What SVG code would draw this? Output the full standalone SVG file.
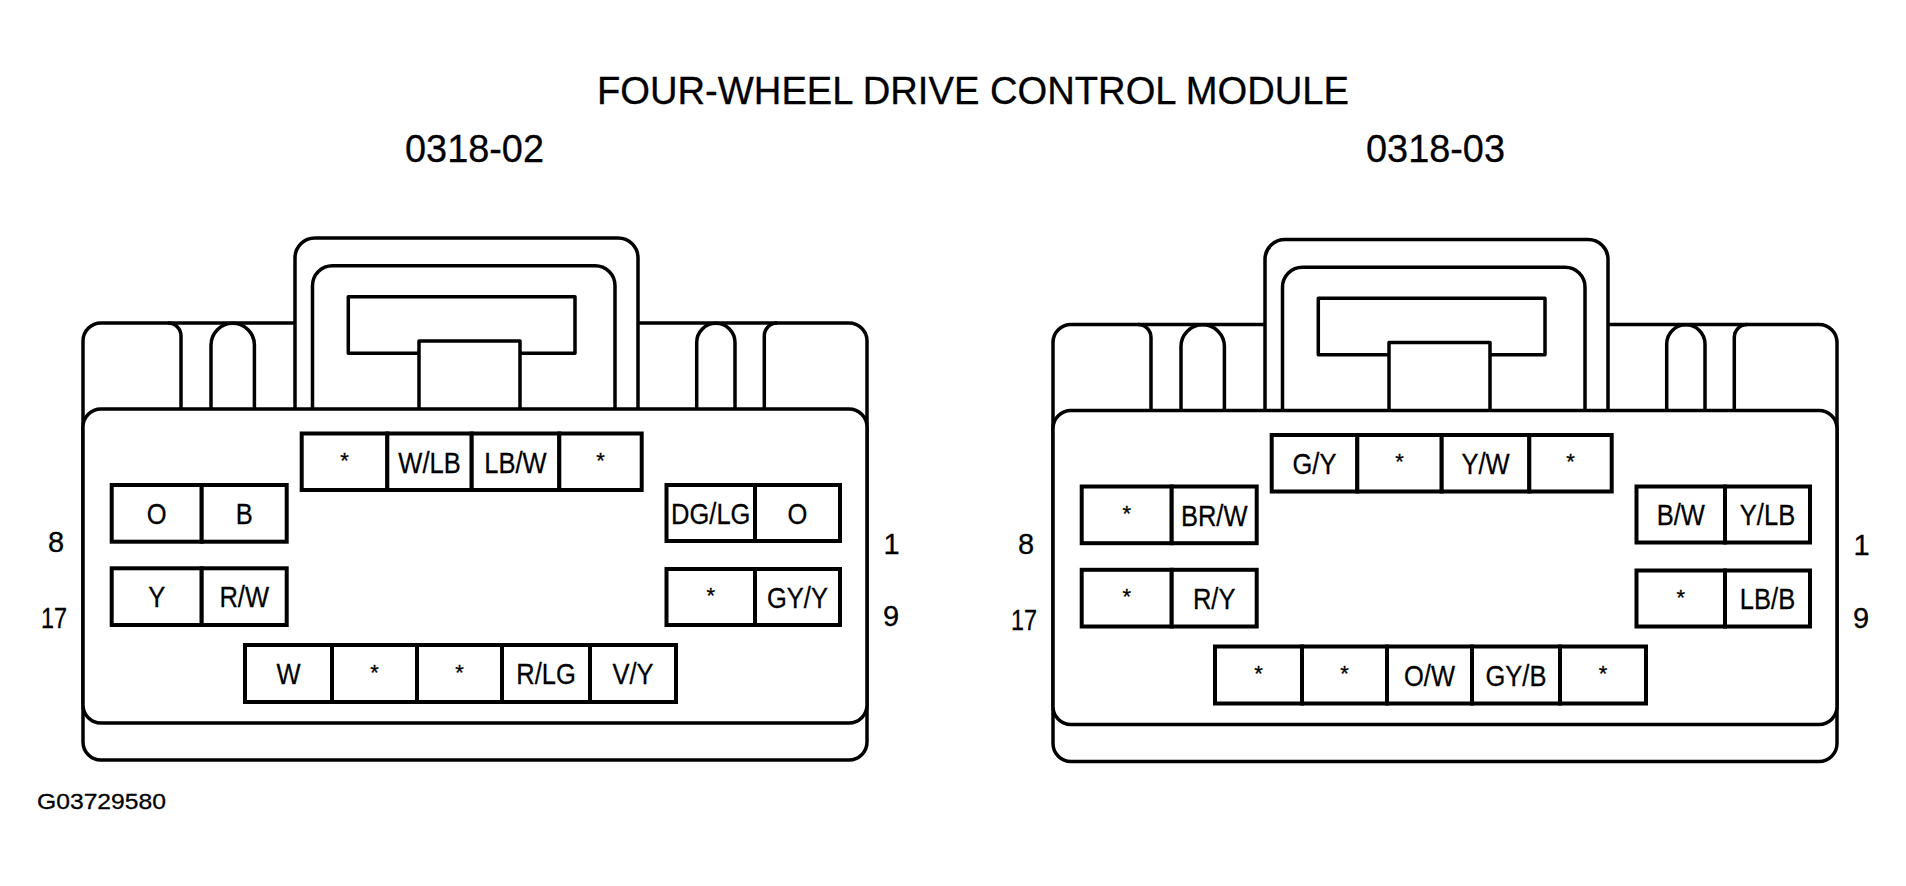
<svg xmlns="http://www.w3.org/2000/svg" width="1906" height="886" viewBox="0 0 1906 886">
<style>
.ln{fill:none;stroke:#000;stroke-width:3.5;stroke-linejoin:round}
.wf{fill:#fff;stroke:#000;stroke-width:3.5;stroke-linejoin:round}
.cell{fill:#fff;stroke:#000;stroke-width:4}
text{font-family:"Liberation Sans",Arial,sans-serif;fill:#000;stroke:#000;stroke-width:0.3}
.t{font-size:30px;text-anchor:middle}
.a{font-size:22px;text-anchor:middle}
.n{font-size:29px;text-anchor:middle}
.h{font-size:39px}
.g{font-size:22px}
</style>
<defs>
<g id="shell">
<rect class="wf" x="83" y="323" width="784" height="437" rx="18"/>
<path class="ln" d="M168,323 A13,13 0 0 1 181,336 V409"/>
<path class="ln" d="M211,409 V345 A21.7,21.7 0 0 1 254.4,345 V409"/>
<path class="ln" d="M696.7,409 V342.5 A19.15,19.15 0 0 1 735,342.5 V409"/>
<path class="ln" d="M764.3,409 V336 A13,13 0 0 1 777.3,323"/>
<path class="wf" d="M295,409 V258 A20,20 0 0 1 315,238 H618 A20,20 0 0 1 638,258 V409"/>
<path class="ln" d="M312.5,409 V285.7 A20,20 0 0 1 332.5,265.7 H595 A20,20 0 0 1 615,285.7 V409"/>
<path class="ln" d="M419,353.3 H348.3 V296.7 H575 V353.3 H520"/>
<path class="ln" d="M419,409 V341 H520 V409"/>
<rect class="wf" x="83" y="409" width="784" height="314" rx="18"/>
</g>
</defs>
<rect width="1906" height="886" fill="#fff"/>
<g id="titles">
<text class="h" x="597" y="104" textLength="752" lengthAdjust="spacingAndGlyphs">FOUR-WHEEL DRIVE CONTROL MODULE</text>
<text class="h" x="405" y="161.5" textLength="139" lengthAdjust="spacingAndGlyphs">0318-02</text>
<text class="h" x="1366" y="161.5" textLength="139" lengthAdjust="spacingAndGlyphs">0318-03</text>
<text class="g" x="37" y="809.3" textLength="129" lengthAdjust="spacingAndGlyphs">G03729580</text>
</g>
<g id="conn-0318-02">
<use href="#shell"/>
<g id="c02-t1"><rect class="cell" x="301.7" y="433.5" width="85.6" height="56.5"/><text class="a" x="344.5" y="467.5">*</text></g>
<g id="c02-t2"><rect class="cell" x="387.3" y="433.5" width="84.4" height="56.5"/><text class="t" x="429.5" y="472.5" textLength="62.3" lengthAdjust="spacingAndGlyphs">W/LB</text></g>
<g id="c02-t3"><rect class="cell" x="471.7" y="433.5" width="87.6" height="56.5"/><text class="t" x="515.5" y="472.5" textLength="62.3" lengthAdjust="spacingAndGlyphs">LB/W</text></g>
<g id="c02-t4"><rect class="cell" x="559.3" y="433.5" width="82.4" height="56.5"/><text class="a" x="600.5" y="467.5">*</text></g>
<g id="c02-l1"><rect class="cell" x="111.7" y="485" width="90" height="56.7"/><text class="t" x="156.7" y="524" textLength="19.8" lengthAdjust="spacingAndGlyphs">O</text></g>
<g id="c02-l2"><rect class="cell" x="201.7" y="485" width="85" height="56.7"/><text class="t" x="244.2" y="524" textLength="17" lengthAdjust="spacingAndGlyphs">B</text></g>
<g id="c02-l3"><rect class="cell" x="111.7" y="568.3" width="90" height="56.7"/><text class="t" x="156.7" y="607.3" textLength="17" lengthAdjust="spacingAndGlyphs">Y</text></g>
<g id="c02-l4"><rect class="cell" x="201.7" y="568.3" width="85" height="56.7"/><text class="t" x="244.2" y="607.3" textLength="49.6" lengthAdjust="spacingAndGlyphs">R/W</text></g>
<g id="c02-r1"><rect class="cell" x="666.5" y="485" width="88.5" height="56"/><text class="t" x="710.75" y="523.7" textLength="79.4" lengthAdjust="spacingAndGlyphs">DG/LG</text></g>
<g id="c02-r2"><rect class="cell" x="755" y="485" width="85" height="56"/><text class="t" x="797.5" y="523.7" textLength="19.8" lengthAdjust="spacingAndGlyphs">O</text></g>
<g id="c02-r3"><rect class="cell" x="666.5" y="569" width="88.5" height="56"/><text class="a" x="710.75" y="603">*</text></g>
<g id="c02-r4"><rect class="cell" x="755" y="569" width="85" height="56"/><text class="t" x="797.5" y="607.7" textLength="60.9" lengthAdjust="spacingAndGlyphs">GY/Y</text></g>
<g id="c02-b1"><rect class="cell" x="245" y="645" width="87" height="57"/><text class="t" x="288.5" y="684.2" textLength="24.1" lengthAdjust="spacingAndGlyphs">W</text></g>
<g id="c02-b2"><rect class="cell" x="332" y="645" width="85" height="57"/><text class="a" x="374.5" y="679.5">*</text></g>
<g id="c02-b3"><rect class="cell" x="417" y="645" width="85" height="57"/><text class="a" x="459.5" y="679.5">*</text></g>
<g id="c02-b4"><rect class="cell" x="502" y="645" width="88" height="57"/><text class="t" x="546" y="684.2" textLength="59.5" lengthAdjust="spacingAndGlyphs">R/LG</text></g>
<g id="c02-b5"><rect class="cell" x="590" y="645" width="86" height="57"/><text class="t" x="633" y="684.2" textLength="41.1" lengthAdjust="spacingAndGlyphs">V/Y</text></g>
<text class="n" x="56" y="552">8</text>
<text class="n" x="54" y="628" textLength="26" lengthAdjust="spacingAndGlyphs">17</text>
<text class="n" x="891.5" y="553.5">1</text>
<text class="n" x="891" y="626">9</text>
</g>
<g id="conn-0318-03" transform="translate(970,1.5)">
<use href="#shell"/>
<g id="c03-t1"><rect class="cell" x="301.7" y="433.5" width="85.6" height="56.5"/><text class="t" x="344.5" y="472.5" textLength="43.9" lengthAdjust="spacingAndGlyphs">G/Y</text></g>
<g id="c03-t2"><rect class="cell" x="387.3" y="433.5" width="84.4" height="56.5"/><text class="a" x="429.5" y="467.5">*</text></g>
<g id="c03-t3"><rect class="cell" x="471.7" y="433.5" width="87.6" height="56.5"/><text class="t" x="515.5" y="472.5" textLength="48.2" lengthAdjust="spacingAndGlyphs">Y/W</text></g>
<g id="c03-t4"><rect class="cell" x="559.3" y="433.5" width="82.4" height="56.5"/><text class="a" x="600.5" y="467.5">*</text></g>
<g id="c03-l1"><rect class="cell" x="111.7" y="485" width="90" height="56.7"/><text class="a" x="156.7" y="519.5">*</text></g>
<g id="c03-l2"><rect class="cell" x="201.7" y="485" width="85" height="56.7"/><text class="t" x="244.2" y="524" textLength="66.6" lengthAdjust="spacingAndGlyphs">BR/W</text></g>
<g id="c03-l3"><rect class="cell" x="111.7" y="568.3" width="90" height="56.7"/><text class="a" x="156.7" y="602.7">*</text></g>
<g id="c03-l4"><rect class="cell" x="201.7" y="568.3" width="85" height="56.7"/><text class="t" x="244.2" y="607.3" textLength="42.5" lengthAdjust="spacingAndGlyphs">R/Y</text></g>
<g id="c03-r1"><rect class="cell" x="666.5" y="485" width="88.5" height="56"/><text class="t" x="710.75" y="523.7" textLength="48.2" lengthAdjust="spacingAndGlyphs">B/W</text></g>
<g id="c03-r2"><rect class="cell" x="755" y="485" width="85" height="56"/><text class="t" x="797.5" y="523.7" textLength="55.3" lengthAdjust="spacingAndGlyphs">Y/LB</text></g>
<g id="c03-r3"><rect class="cell" x="666.5" y="569" width="88.5" height="56"/><text class="a" x="710.75" y="603">*</text></g>
<g id="c03-r4"><rect class="cell" x="755" y="569" width="85" height="56"/><text class="t" x="797.5" y="607.7" textLength="55.3" lengthAdjust="spacingAndGlyphs">LB/B</text></g>
<g id="c03-b1"><rect class="cell" x="245" y="645" width="87" height="57"/><text class="a" x="288.5" y="679.5">*</text></g>
<g id="c03-b2"><rect class="cell" x="332" y="645" width="85" height="57"/><text class="a" x="374.5" y="679.5">*</text></g>
<g id="c03-b3"><rect class="cell" x="417" y="645" width="85" height="57"/><text class="t" x="459.5" y="684.2" textLength="51" lengthAdjust="spacingAndGlyphs">O/W</text></g>
<g id="c03-b4"><rect class="cell" x="502" y="645" width="88" height="57"/><text class="t" x="546" y="684.2" textLength="60.9" lengthAdjust="spacingAndGlyphs">GY/B</text></g>
<g id="c03-b5"><rect class="cell" x="590" y="645" width="86" height="57"/><text class="a" x="633" y="679.5">*</text></g>
<text class="n" x="56" y="552">8</text>
<text class="n" x="54" y="628" textLength="26" lengthAdjust="spacingAndGlyphs">17</text>
<text class="n" x="891.5" y="553.5">1</text>
<text class="n" x="891" y="626">9</text>
</g>
<g id="connectors"/>
</svg>
